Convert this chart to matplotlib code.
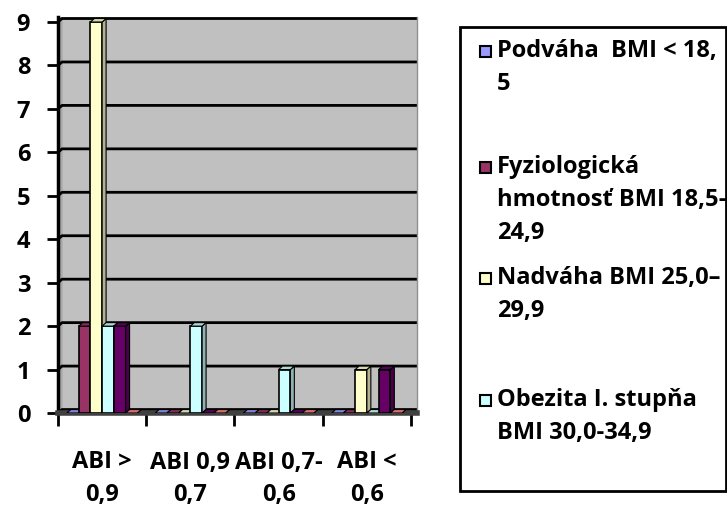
import matplotlib.pyplot as plt
from matplotlib.patches import Rectangle
import numpy as np

plt.rcParams['font.family'] = ['Open Sans', 'DejaVu Sans']
plt.rcParams['font.weight'] = 'bold'

# skupiny podla ABI a pocty pacientov v jednotlivych BMI kategoriach
skupiny = ['ABI >\n0,9', 'ABI 0,9\n0,7', 'ABI 0,7-\n0,6', 'ABI <\n0,6']
podvaha = [0, 0, 0, 0]
fyziologicka = [2, 0, 0, 0]
nadvaha = [9, 0, 0, 1]
obezita1 = [2, 2, 1, 0]
obezita2 = [2, 0, 0, 1]
obezita3 = [0, 0, 0, 0]
legenda = ['Podváha  BMI < 18,\n5',
           'Fyziologická\nhmotnosť BMI 18,5–\n24,9',
           'Nadváha BMI 25,0–\n29,9',
           'Obezita I. stupňa\nBMI 30,0-34,9']
farby = ['#9999FF', '#993366', '#FFFFCC', '#CCFFFF', '#660066', '#FF8080']

W, H = 727, 509
fig = plt.figure(figsize=(W / 100, H / 100), dpi=100)
ax = fig.add_axes([58 / W, 1 - 413 / H, (417 - 58) / W, (413 - 17) / H])
xmax = 3.568
dx, dy = 0.045, 0.08
ax.set_xlim(-0.5, xmax)
ax.set_ylim(0, 9 + dy + 0.035)
ax.set_facecolor('#C0C0C0')

# bocna stena a mriezka na zadnej stene
ax.fill([-0.5, -0.5 + dx, -0.5 + dx, -0.5], [0, dy, 9.2, 9.2], color='#A8A8A8', zorder=0.5)
for k in range(10):
    ax.plot([-0.5, -0.5 + dx, xmax], [k, k + dy, k + dy], color='black', lw=2, zorder=1)


def tien(c, f):
    c = np.array(plt.matplotlib.colors.to_rgb(c))
    return tuple(c * f)


x = np.arange(len(skupiny))
sirka = 0.133
rady = [podvaha, fyziologicka, nadvaha, obezita1, obezita2, obezita3]
for i, (vals, c) in enumerate(zip(rady, farby)):
    pos = x + (i - 2.5) * sirka
    z = 3 + 2 * i
    bars = ax.bar(pos, vals, sirka, color=c, edgecolor='black', lw=1.2, zorder=z)
    for b in bars:
        x0, x1, h = b.get_x(), b.get_x() + b.get_width(), b.get_height()
        # pravy bok a vrch stlpca
        ax.fill([x1, x1 + dx, x1 + dx, x1], [0, dy, h + dy, h],
                facecolor=tien(c, 0.7), edgecolor='black', lw=0.8, zorder=z + 0.5)
        ax.fill([x0, x0 + dx, x1 + dx, x1], [h, h + dy, h + dy, h],
                facecolor=tien(c, 0.85), edgecolor='black', lw=0.8, zorder=z + 0.5)

ax.set_yticks(range(10))
ax.tick_params(axis='y', length=8, width=2, pad=12, labelsize=17)
ax.set_xticks(x, skupiny, linespacing=1.48)
ax.tick_params(axis='x', which='major', length=0, pad=27, labelsize=17)
ax.set_xticks(np.arange(-0.5, 4), minor=True)
ax.tick_params(axis='x', which='minor', length=9, width=2)

ax.spines['top'].set_visible(False)
ax.spines['right'].set_color('#909090')
ax.spines['right'].set_linewidth(1)
ax.spines['left'].set_linewidth(2.5)
ax.spines['bottom'].set_color('#404040')
ax.spines['bottom'].set_linewidth(4)

# legenda
fig.patches.append(Rectangle((460 / W, 1 - 491 / H), (726 - 460) / W, (491 - 27) / H,
                             transform=fig.transFigure, facecolor='white',
                             edgecolor='black', lw=2))
riadky_y = [51, 167, 278, 400]
for lab, c, y0 in zip(legenda, farby, riadky_y):
    fig.patches.append(Rectangle((480 / W, 1 - (y0 + 5.5) / H), 11 / W, 11 / H,
                                 transform=fig.transFigure, facecolor=c,
                                 edgecolor='black', lw=1.5))
    for j, line in enumerate(lab.split('\n')):
        fig.text(497 / W, 1 - (y0 + j * 33) / H, line, fontsize=17,
                 va='center', ha='left')

fig.savefig('out.png', dpi=100)
